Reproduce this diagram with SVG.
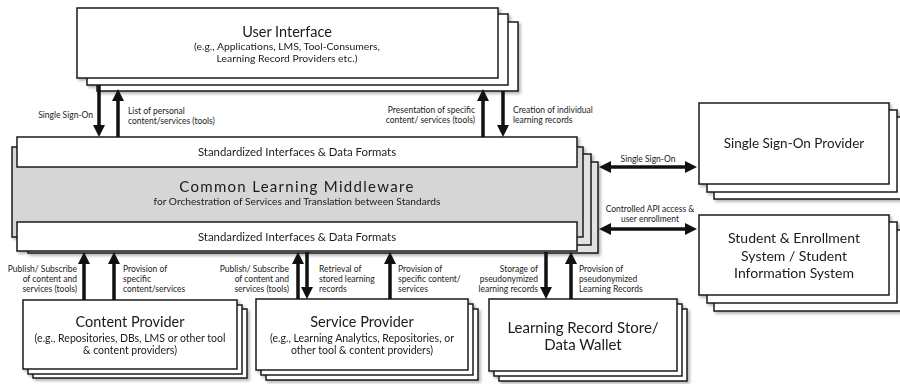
<svg xmlns="http://www.w3.org/2000/svg" width="900" height="384" viewBox="0 0 900 384">
<defs>
<style>
.bx{fill:#fff;stroke:#1a1a1a;stroke-width:1.5}
.gr{fill:#d6d6d6;stroke:#1a1a1a;stroke-width:1.5}
.gr2{fill:#e2e2e2;stroke:#1a1a1a;stroke-width:1.5}
text{font-family:Lato,"Liberation Sans",sans-serif;fill:#1a1a1a}
.t{font-size:14.5px;text-anchor:middle}
.s{font-size:10px;text-anchor:middle}
.l{font-size:8.5px}
.e{text-anchor:end}
.m{text-anchor:middle}
.ar{stroke:#111;stroke-width:3.5;fill:none;marker-end:url(#ah)}
.dbl{marker-start:url(#ah)}
</style>
<marker id="ah" markerUnits="userSpaceOnUse" markerWidth="12" markerHeight="12" viewBox="0 0 12 12" refX="4" refY="6" orient="auto-start-reverse">
<path d="M0,0 L12,6 L0,12 z" fill="#111"/>
</marker>
<filter id="sh" x="-5%" y="-5%" width="115%" height="130%">
<feDropShadow dx="2" dy="2" stdDeviation="1.5" flood-color="#000" flood-opacity="0.3"/>
</filter>
</defs>

<g id="user-interface" filter="url(#sh)">
<rect class="bx" x="97" y="22" width="421" height="69"/>
<rect class="bx" x="87" y="14" width="421" height="71"/>
<rect class="bx" x="77" y="8" width="421" height="70"/>
<text class="t" x="287" y="37">User Interface</text>
<text class="s" x="287" y="50" style="font-size:10.4px">(e.g., Applications, LMS, Tool-Consumers,</text>
<text class="s" x="287" y="62" style="font-size:10.4px">Learning Record Providers etc.)</text>
</g>

<g id="middleware" filter="url(#sh)">
<rect class="gr2" x="28" y="162" width="570" height="91"/>
<rect class="gr2" x="20" y="154" width="571" height="91"/>
<rect class="gr" x="12" y="147" width="571" height="90"/>
<rect class="bx" x="17" y="137" width="560" height="30"/>
<rect class="bx" x="17" y="222" width="560" height="29"/>
<text class="s" x="297" y="156" style="font-size:11.4px">Standardized Interfaces &amp; Data Formats</text>
<text class="t" x="297" y="192" style="font-size:15px;letter-spacing:1.3px">Common Learning Middleware</text>
<text class="s" x="297" y="205" style="font-size:10.2px">for Orchestration of Services and Translation between Standards</text>
<text class="s" x="297" y="240.5" style="font-size:11.4px">Standardized Interfaces &amp; Data Formats</text>
</g>

<g id="sso-provider" filter="url(#sh)">
<rect class="bx" x="714" y="117" width="190" height="82"/>
<rect class="bx" x="707" y="110" width="190" height="82"/>
<rect class="bx" x="699" y="103" width="190" height="81"/>
<text class="t" x="794" y="148" style="font-size:13.5px">Single Sign-On Provider</text>
</g>

<g id="student-system" filter="url(#sh)">
<rect class="bx" x="714" y="230" width="190" height="81"/>
<rect class="bx" x="707" y="222" width="190" height="81"/>
<rect class="bx" x="699" y="215" width="190" height="80"/>
<text class="t" x="794" y="243" style="font-size:14px">Student &amp; Enrollment</text>
<text class="t" x="794" y="261" style="font-size:14px">System / Student</text>
<text class="t" x="794" y="278" style="font-size:14px">Information System</text>
</g>

<g id="content-provider" filter="url(#sh)">
<rect class="bx" x="33" y="309" width="214" height="69"/>
<rect class="bx" x="28" y="305" width="214" height="69"/>
<rect class="bx" x="23" y="300" width="214" height="69"/>
<text class="t" x="130" y="327">Content Provider</text>
<text class="s" x="130" y="342" style="font-size:10.5px">(e.g., Repositories, DBs, LMS or other tool</text>
<text class="s" x="130" y="354" style="font-size:10.5px">&amp; content providers)</text>
</g>

<g id="service-provider" filter="url(#sh)">
<rect class="bx" x="266" y="309" width="212" height="71"/>
<rect class="bx" x="261" y="304" width="212" height="71"/>
<rect class="bx" x="256" y="299" width="212" height="71"/>
<text class="t" x="362" y="327">Service Provider</text>
<text class="s" x="362" y="342" style="font-size:10.5px">(e.g., Learning Analytics, Repositories, or</text>
<text class="s" x="362" y="354" style="font-size:10.5px">other tool &amp; content providers)</text>
</g>

<g id="learning-record-store" filter="url(#sh)">
<rect class="bx" x="499" y="309" width="188" height="72"/>
<rect class="bx" x="494" y="304" width="188" height="72"/>
<rect class="bx" x="489" y="299" width="188" height="72"/>
<text class="t" x="583" y="333" style="font-size:15px">Learning Record Store/</text>
<text class="t" x="583" y="350" style="font-size:15px">Data Wallet</text>
</g>

<g id="connectors">
<line class="ar" x1="99" y1="85" x2="99" y2="129"/>
<line class="ar" x1="118" y1="137" x2="118" y2="97"/>
<line class="ar" x1="483" y1="137" x2="483" y2="97"/>
<line class="ar" x1="503" y1="91" x2="503" y2="129"/>
<line class="ar dbl" x1="607" y1="167" x2="689" y2="167"/>
<line class="ar dbl" x1="607" y1="229" x2="689" y2="229"/>
<line class="ar" x1="84" y1="300" x2="84" y2="260"/>
<line class="ar" x1="114" y1="300" x2="114" y2="260"/>
<line class="ar" x1="298" y1="299" x2="298" y2="260"/>
<line class="ar" x1="307" y1="252" x2="307" y2="291"/>
<line class="ar" x1="390" y1="299" x2="390" y2="260"/>
<line class="ar" x1="546" y1="252" x2="546" y2="291"/>
<line class="ar" x1="571" y1="299" x2="571" y2="260"/>

<text class="l e" x="93" y="118">Single Sign-On</text>
<text class="l" x="128" y="114">List of personal</text>
<text class="l" x="128" y="124">content/services (tools)</text>
<text class="l e" x="475" y="113">Presentation of specific</text>
<text class="l e" x="475" y="123">content/ services (tools)</text>
<text class="l" x="513" y="113">Creation of individual</text>
<text class="l" x="513" y="123">learning records</text>

<text class="l m" x="648" y="162">Single Sign-On</text>
<text class="l m" x="650" y="212">Controlled API access &amp;</text>
<text class="l m" x="650" y="222">user enrollment</text>

<text class="l e" x="77" y="272">Publish/ Subscribe</text>
<text class="l e" x="77" y="282">of content and</text>
<text class="l e" x="77" y="292">services (tools)</text>
<text class="l" x="123" y="272">Provision of</text>
<text class="l" x="123" y="282">specific</text>
<text class="l" x="123" y="292">content/services</text>
<text class="l e" x="289" y="272">Publish/ Subscribe</text>
<text class="l e" x="289" y="282">of content and</text>
<text class="l e" x="289" y="292">services (tools)</text>
<text class="l" x="319" y="272">Retrieval of</text>
<text class="l" x="319" y="282">stored learning</text>
<text class="l" x="319" y="292">records</text>
<text class="l" x="398" y="272">Provision of</text>
<text class="l" x="398" y="282">specific content/</text>
<text class="l" x="398" y="292">services</text>
<text class="l e" x="538" y="272">Storage of</text>
<text class="l e" x="538" y="282">pseudonymized</text>
<text class="l e" x="538" y="292">learning records</text>
<text class="l" x="579" y="272">Provision of</text>
<text class="l" x="579" y="282">pseudonymized</text>
<text class="l" x="579" y="292">Learning Records</text>
</g>
</svg>
